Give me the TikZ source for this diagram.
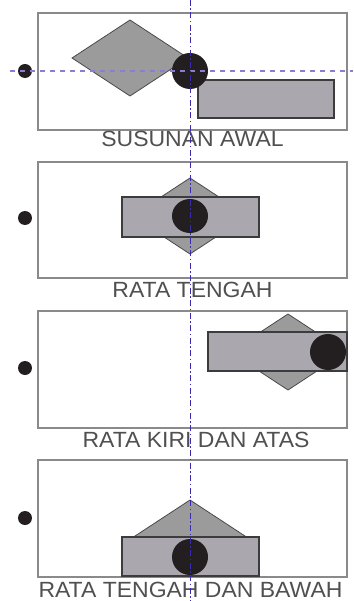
\documentclass[tikz,border=0pt]{standalone}
\usepackage{fontspec}
\setmainfont{Liberation Sans}
\definecolor{framegray}{HTML}{8A8A8A}
\definecolor{diaedge}{HTML}{4A4A4A}
\definecolor{diafill}{HTML}{9B9B9B}
\definecolor{baredge}{HTML}{3C3C3C}
\definecolor{barfill}{HTML}{AAA8AE}
\definecolor{ballblack}{HTML}{231F20}
\definecolor{lblgray}{HTML}{505050}
\definecolor{guideblue}{HTML}{3A2AB0}
\definecolor{guidelight}{HTML}{8C7CD6}
\begin{document}
\begin{tikzpicture}[x=1pt,y=-1pt,
  frame/.style={draw=framegray,line width=1.6pt,fill=white},
  dia/.style={draw=diaedge,fill=diafill,line width=0.8pt,line join=miter},
  bar/.style={draw=baredge,fill=barfill,line width=1.2pt},
  ball/.style={fill=ballblack},
  lbl/.style={text=lblgray,font=\fontsize{22}{22}\selectfont,inner sep=0pt,text depth=0pt,anchor=base},
  vguide/.style={draw=guideblue,line width=1pt,dash pattern=on 6pt off 2.5pt on 1.5pt off 2.5pt},
  hguide/.style={draw=guidelight,line width=1.6pt,dash pattern=on 5pt off 5pt}]
\useasboundingbox (0,0) rectangle (353,601);
\fill[white] (0,0) rectangle (353,601);
% frames
\draw[frame] (38,13) rectangle (347,130);
\draw[frame] (38,162) rectangle (347,278);
\draw[frame] (38,311) rectangle (347,428);
\draw[frame] (38,460) rectangle (347,577);
% panel 1
\draw[dia] (72,58) -- (130,20) -- (188,58) -- (130,96) -- cycle;
\draw[bar] (198,80) rectangle (334,118);
\fill[ball] (190,71) ellipse [x radius=18, y radius=18];
\fill[ball] (25,71) circle [radius=7];
% panel 2
\draw[dia] (132,216) -- (190,178) -- (248,216) -- (190,254) -- cycle;
\draw[bar] (122,197) rectangle (259,237);
\fill[ball] (190,216) ellipse [x radius=18, y radius=17];
\fill[ball] (25,218) circle [radius=7];
% panel 3
\draw[dia] (230,352) -- (288,314) -- (346,352) -- (288,390) -- cycle;
\draw[bar] (208,332) rectangle (347,371);
\fill[ball] (328,352) ellipse [x radius=18, y radius=18];
\fill[ball] (25,368) circle [radius=7];
% panel 4
\draw[dia] (132,538) -- (190,500) -- (248,538) -- (190,576) -- cycle;
\draw[bar] (122,537) rectangle (259,576);
\fill[ball] (190,557) ellipse [x radius=18, y radius=18];
\fill[ball] (25,518) circle [radius=7];
% labels
\node[lbl] (l1) at (192.5,147) {\scalebox{1.045}[1]{SUSUNAN AWAL}};
\node[lbl] (l2) at (192.5,297) {\scalebox{1.045}[1]{RATA TENGAH}};
\node[lbl] (l3) at (196,447) {\scalebox{1.045}[1]{RATA KIRI DAN ATAS}};
\node[lbl] (l4) at (190.5,597) {\scalebox{1.045}[1]{RATA TENGAH DAN BAWAH}};
% guides
\coordinate (ht1) at (10,71);
\coordinate (ht2) at (353,71);
\coordinate (vt1) at (190,0);
\coordinate (vt2) at (190,601);
\draw[hguide] (ht1) -- (ht2);
\draw[vguide] (vt1) -- (vt2);
\end{tikzpicture}
\end{document}
